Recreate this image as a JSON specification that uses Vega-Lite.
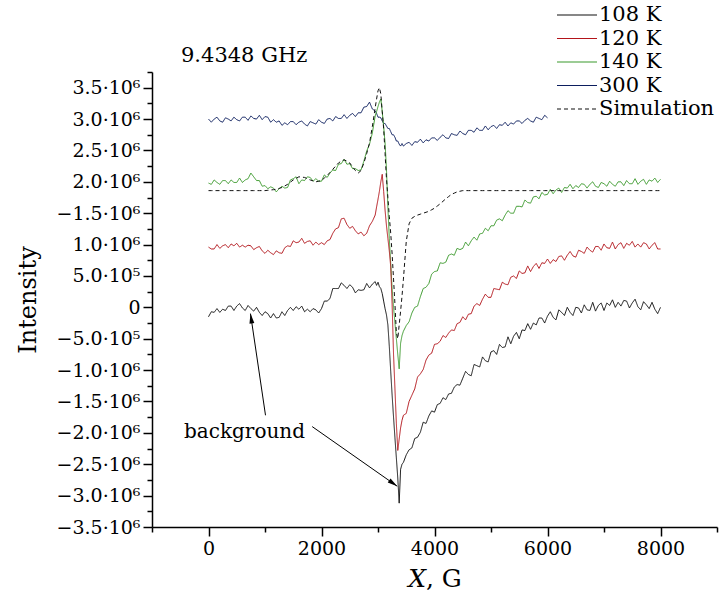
{
"$schema": "https://vega.github.io/schema/vega-lite/v6.json",
"width": 565, "height": 455,
"autosize": "none",
"padding": {"left": 152, "top": 72, "right": 3, "bottom": 81},
"background": "white",
"title": {"text": "9.4348 GHz", "anchor": "start", "frame": "group", "dx": 29, "offset": -62, "font": "DejaVu Serif", "fontSize": 21, "fontWeight": "normal", "color": "black"},
"datasets": {
"curves": [
{"x":0,"a":-0.15,"b":0.96,"c":1.98,"d":3.00,"s":1.86},
{"x":50,"a":-0.07,"b":0.93,"c":1.96,"d":2.95,"s":1.86},
{"x":100,"a":-0.08,"b":0.93,"c":2.03,"d":3.00,"s":1.86},
{"x":150,"a":-0.02,"b":1.00,"c":1.99,"d":3.03,"s":1.86},
{"x":200,"a":-0.08,"b":0.94,"c":1.96,"d":2.97,"s":1.86},
{"x":250,"a":-0.03,"b":0.98,"c":2.02,"d":2.95,"s":1.86},
{"x":300,"a":-0.05,"b":1.00,"c":2.02,"d":3.02,"s":1.86},
{"x":350,"a":0.02,"b":0.95,"c":1.97,"d":3.00,"s":1.86},
{"x":400,"a":0.02,"b":1.01,"c":2.03,"d":2.97,"s":1.86},
{"x":450,"a":-0.05,"b":0.98,"c":1.99,"d":3.03,"s":1.86},
{"x":500,"a":0.02,"b":1.02,"c":1.99,"d":2.99,"s":1.86},
{"x":550,"a":0.06,"b":0.96,"c":2.06,"d":2.97,"s":1.86},
{"x":600,"a":-0.01,"b":0.99,"c":1.99,"d":3.03,"s":1.86},
{"x":650,"a":-0.05,"b":0.96,"c":2.03,"d":3.03,"s":1.86},
{"x":700,"a":0.03,"b":0.99,"c":2.05,"d":2.98,"s":1.86},
{"x":750,"a":-0.02,"b":0.98,"c":2.14,"d":3.05,"s":1.86},
{"x":800,"a":-0.06,"b":0.92,"c":2.08,"d":3.01,"s":1.86},
{"x":850,"a":0.00,"b":0.95,"c":2.02,"d":3.00,"s":1.86},
{"x":900,"a":-0.08,"b":0.97,"c":2.02,"d":3.06,"s":1.86},
{"x":950,"a":-0.13,"b":0.90,"c":1.93,"d":2.99,"s":1.86},
{"x":1000,"a":-0.07,"b":0.86,"c":1.94,"d":3.04,"s":1.86},
{"x":1050,"a":-0.10,"b":0.91,"c":1.89,"d":3.03,"s":1.865},
{"x":1100,"a":-0.17,"b":0.87,"c":1.92,"d":2.95,"s":1.87},
{"x":1150,"a":-0.10,"b":0.84,"c":1.90,"d":2.99,"s":1.875},
{"x":1200,"a":-0.17,"b":0.90,"c":1.84,"d":2.95,"s":1.88},
{"x":1250,"a":-0.16,"b":0.87,"c":1.89,"d":2.97,"s":1.895},
{"x":1300,"a":-0.07,"b":0.86,"c":1.93,"d":2.90,"s":1.91},
{"x":1350,"a":-0.13,"b":0.95,"c":1.90,"d":2.94,"s":1.935},
{"x":1400,"a":-0.05,"b":0.98,"c":1.91,"d":2.91,"s":1.96},
{"x":1450,"a":0.00,"b":0.97,"c":2.03,"d":2.96,"s":1.995},
{"x":1500,"a":-0.05,"b":1.06,"c":2.05,"d":2.96,"s":2.03},
{"x":1550,"a":0.01,"b":1.03,"c":2.08,"d":2.91,"s":2.055},
{"x":1600,"a":-0.03,"b":1.04,"c":1.97,"d":2.95,"s":2.08},
{"x":1650,"a":0.02,"b":1.10,"c":2.03,"d":2.97,"s":2.075},
{"x":1700,"a":-0.07,"b":1.02,"c":2.02,"d":2.92,"s":2.07},
{"x":1750,"a":-0.03,"b":1.05,"c":2.08,"d":2.89,"s":2.05},
{"x":1800,"a":-0.07,"b":1.06,"c":2.07,"d":2.96,"s":2.03},
{"x":1850,"a":-0.02,"b":0.99,"c":2.01,"d":2.94,"s":2.015},
{"x":1900,"a":-0.04,"b":1.04,"c":2.05,"d":2.92,"s":2.00},
{"x":1950,"a":-0.09,"b":1.00,"c":2.01,"d":2.99,"s":2.01},
{"x":2000,"a":-0.02,"b":1.03,"c":2.01,"d":2.95,"s":2.02},
{"x":2050,"a":0.10,"b":1.00,"c":2.11,"d":2.93,"s":2.06},
{"x":2100,"a":0.10,"b":1.06,"c":2.07,"d":3.00,"s":2.10},
{"x":2150,"a":0.14,"b":1.08,"c":2.14,"d":3.01,"s":2.15},
{"x":2200,"a":0.30,"b":1.18,"c":2.19,"d":2.97,"s":2.20},
{"x":2250,"a":0.30,"b":1.25,"c":2.18,"d":3.04,"s":2.25},
{"x":2300,"a":0.30,"b":1.27,"c":2.28,"d":3.01,"s":2.30},
{"x":2350,"a":0.39,"b":1.41,"c":2.29,"d":3.01,"s":2.33},
{"x":2400,"a":0.35,"b":1.42,"c":2.36,"d":3.07,"s":2.35},
{"x":2450,"a":0.30,"b":1.32,"c":2.28,"d":3.01,"s":2.33},
{"x":2500,"a":0.36,"b":1.26,"c":2.29,"d":3.06,"s":2.30},
{"x":2550,"a":0.32,"b":1.29,"c":2.21,"d":3.09,"s":2.24},
{"x":2600,"a":0.23,"b":1.22,"c":2.21,"d":3.04,"s":2.18},
{"x":2650,"a":0.28,"b":1.17,"c":2.18,"d":3.10,"s":2.14},
{"x":2700,"a":0.27,"b":1.20,"c":2.19,"d":3.10,"s":2.18},
{"x":2750,"a":0.28,"b":1.14,"c":2.33,"d":3.19,"s":2.30},
{"x":2800,"a":0.38,"b":1.18,"c":2.49,"d":3.20,"s":2.45},
{"x":2850,"a":0.31,"b":1.30,"c":2.60,"d":3.27,"s":2.62},
{"x":2900,"a":0.37,"b":1.37,"c":2.78,"d":3.16,"s":2.88},
{"x":2950,"a":0.41,"b":1.47,"c":3.05,"d":3.13,"s":3.18},
{"x":2975,"a":0.35,"b":1.60,"c":3.12,"d":3.09,"s":3.32},
{"x":3000,"a":0.40,"b":1.72,"c":3.20,"d":3.03,"s":3.45},
{"x":3025,"a":0.33,"b":1.85,"c":3.27,"d":3.03,"s":3.50},
{"x":3050,"a":0.30,"b":2.00,"c":3.32,"d":3.02,"s":3.40},
{"x":3075,"a":0.22,"b":2.12,"c":3.12,"d":2.97,"s":3.12},
{"x":3100,"a":0.10,"b":1.85,"c":2.88,"d":2.93,"s":2.85},
{"x":3125,"a":-0.02,"b":1.55,"c":2.62,"d":2.93,"s":2.45},
{"x":3150,"a":-0.12,"b":1.30,"c":2.20,"d":2.89,"s":2.05},
{"x":3175,"a":-0.28,"b":1.10,"c":1.60,"d":2.85,"s":1.75},
{"x":3200,"a":-0.62,"b":0.90,"c":1.10,"d":2.85,"s":1.45},
{"x":3225,"a":-1.02,"b":0.65,"c":0.70,"d":2.80,"s":1.18},
{"x":3250,"a":-1.40,"b":0.05,"c":0.30,"d":2.75,"s":0.85},
{"x":3275,"a":-1.75,"b":-0.75,"c":0.00,"d":2.75,"s":0.45},
{"x":3300,"a":-2.08,"b":-1.30,"c":-0.25,"d":2.71,"s":0.05},
{"x":3325,"a":-2.40,"b":-1.85,"c":-0.50,"d":2.65,"s":-0.40},
{"x":3350,"a":-2.72,"b":-2.28,"c":-0.75,"d":2.65,"s":-0.50},
{"x":3375,"a":-3.12,"b":-2.10,"c":-0.98,"d":2.60,"s":-0.28},
{"x":3400,"a":-2.58,"b":-1.92,"c":-0.57,"d":2.57,"s":-0.06},
{"x":3425,"a":-2.50,"b":-1.80,"c":-0.45,"d":2.61,"s":0.18},
{"x":3450,"a":-2.47,"b":-1.72,"c":-0.38,"d":2.57,"s":0.45},
{"x":3500,"a":-2.35,"b":-1.69,"c":-0.29,"d":2.61,"s":1.05},
{"x":3550,"a":-2.27,"b":-1.50,"c":-0.23,"d":2.63,"s":1.33},
{"x":3600,"a":-2.24,"b":-1.40,"c":-0.09,"d":2.58,"s":1.42},
{"x":3650,"a":-2.09,"b":-1.30,"c":0.00,"d":2.64,"s":1.45},
{"x":3700,"a":-2.07,"b":-1.11,"c":0.02,"d":2.63,"s":1.47},
{"x":3750,"a":-1.99,"b":-1.06,"c":0.17,"d":2.68,"s":1.485},
{"x":3800,"a":-1.83,"b":-0.99,"c":0.30,"d":2.62,"s":1.50},
{"x":3850,"a":-1.85,"b":-0.84,"c":0.32,"d":2.67,"s":1.515},
{"x":3900,"a":-1.73,"b":-0.76,"c":0.38,"d":2.65,"s":1.53},
{"x":3950,"a":-1.65,"b":-0.73,"c":0.53,"d":2.70,"s":1.555},
{"x":4000,"a":-1.67,"b":-0.59,"c":0.57,"d":2.70,"s":1.58},
{"x":4050,"a":-1.55,"b":-0.58,"c":0.58,"d":2.66,"s":1.615},
{"x":4100,"a":-1.53,"b":-0.54,"c":0.71,"d":2.71,"s":1.65},
{"x":4150,"a":-1.44,"b":-0.45,"c":0.70,"d":2.75,"s":1.69},
{"x":4200,"a":-1.47,"b":-0.48,"c":0.72,"d":2.70,"s":1.73},
{"x":4250,"a":-1.38,"b":-0.41,"c":0.83,"d":2.69,"s":1.765},
{"x":4300,"a":-1.37,"b":-0.36,"c":0.85,"d":2.77,"s":1.80},
{"x":4350,"a":-1.27,"b":-0.37,"c":0.83,"d":2.75,"s":1.82},
{"x":4400,"a":-1.23,"b":-0.26,"c":0.94,"d":2.74,"s":1.84},
{"x":4450,"a":-1.24,"b":-0.24,"c":0.92,"d":2.81,"s":1.85},
{"x":4500,"a":-1.13,"b":-0.15,"c":0.94,"d":2.77,"s":1.86},
{"x":4550,"a":-1.02,"b":-0.20,"c":1.04,"d":2.75,"s":1.86},
{"x":4600,"a":-1.07,"b":-0.11,"c":0.98,"d":2.82,"s":1.86},
{"x":4650,"a":-1.09,"b":-0.10,"c":1.06,"d":2.82,"s":1.86},
{"x":4700,"a":-0.91,"b":0.02,"c":1.12,"d":2.79,"s":1.86},
{"x":4750,"a":-0.93,"b":0.06,"c":1.07,"d":2.86,"s":1.86},
{"x":4800,"a":-0.95,"b":0.03,"c":1.17,"d":2.82,"s":1.86},
{"x":4850,"a":-0.79,"b":0.13,"c":1.18,"d":2.82,"s":1.86},
{"x":4900,"a":-0.85,"b":0.21,"c":1.26,"d":2.89,"s":1.86},
{"x":4950,"a":-0.87,"b":0.16,"c":1.22,"d":2.83,"s":1.86},
{"x":5000,"a":-0.71,"b":0.16,"c":1.30,"d":2.88,"s":1.86},
{"x":5050,"a":-0.69,"b":0.30,"c":1.30,"d":2.90,"s":1.86},
{"x":5100,"a":-0.75,"b":0.29,"c":1.39,"d":2.85,"s":1.86},
{"x":5150,"a":-0.59,"b":0.28,"c":1.41,"d":2.91,"s":1.86},
{"x":5200,"a":-0.64,"b":0.40,"c":1.38,"d":2.90,"s":1.86},
{"x":5250,"a":-0.63,"b":0.37,"c":1.47,"d":2.95,"s":1.86},
{"x":5300,"a":-0.47,"b":0.36,"c":1.54,"d":2.89,"s":1.86},
{"x":5350,"a":-0.58,"b":0.48,"c":1.50,"d":2.94,"s":1.86},
{"x":5400,"a":-0.46,"b":0.50,"c":1.50,"d":2.92,"s":1.86},
{"x":5450,"a":-0.40,"b":0.46,"c":1.61,"d":2.97,"s":1.86},
{"x":5500,"a":-0.50,"b":0.58,"c":1.61,"d":2.97,"s":1.86},
{"x":5550,"a":-0.36,"b":0.54,"c":1.60,"d":2.93,"s":1.86},
{"x":5600,"a":-0.37,"b":0.55,"c":1.71,"d":2.98,"s":1.86},
{"x":5650,"a":-0.26,"b":0.66,"c":1.67,"d":3.01,"s":1.86},
{"x":5700,"a":-0.35,"b":0.57,"c":1.66,"d":2.97,"s":1.86},
{"x":5750,"a":-0.25,"b":0.65,"c":1.76,"d":2.95,"s":1.86},
{"x":5800,"a":-0.28,"b":0.70,"c":1.77,"d":3.03,"s":1.86},
{"x":5850,"a":-0.17,"b":0.62,"c":1.73,"d":3.01,"s":1.86},
{"x":5900,"a":-0.17,"b":0.71,"c":1.83,"d":2.99,"s":1.86},
{"x":5950,"a":-0.25,"b":0.70,"c":1.79,"d":3.06,"s":1.86},
{"x":6000,"a":-0.14,"b":0.77,"c":1.80,"d":3.02,"s":1.86},
{"x":6050,"a":-0.07,"b":0.70,"c":1.88,"s":1.86},
{"x":6100,"a":-0.16,"b":0.76,"c":1.81,"s":1.86},
{"x":6150,"a":-0.20,"b":0.73,"c":1.87,"s":1.86},
{"x":6200,"a":-0.04,"b":0.81,"c":1.90,"s":1.86},
{"x":6250,"a":-0.08,"b":0.82,"c":1.83,"s":1.86},
{"x":6300,"a":-0.13,"b":0.75,"c":1.91,"s":1.86},
{"x":6350,"a":0.00,"b":0.83,"c":1.90,"s":1.86},
{"x":6400,"a":-0.08,"b":0.89,"c":1.96,"s":1.86},
{"x":6450,"a":-0.13,"b":0.82,"c":1.89,"s":1.86},
{"x":6500,"a":0.00,"b":0.80,"c":1.94,"s":1.86},
{"x":6550,"a":-0.01,"b":0.91,"c":1.91,"s":1.86},
{"x":6600,"a":-0.09,"b":0.89,"c":1.97,"s":1.86},
{"x":6650,"a":0.04,"b":0.86,"c":1.96,"s":1.86},
{"x":6700,"a":-0.04,"b":0.96,"c":1.90,"s":1.86},
{"x":6750,"a":-0.05,"b":0.91,"c":1.96,"s":1.86},
{"x":6800,"a":0.08,"b":0.88,"c":2.00,"s":1.86},
{"x":6850,"a":-0.06,"b":0.97,"c":1.93,"s":1.86},
{"x":6900,"a":0.03,"b":0.97,"c":1.91,"s":1.86},
{"x":6950,"a":0.07,"b":0.91,"c":1.99,"s":1.86},
{"x":7000,"a":-0.05,"b":1.01,"c":1.97,"s":1.86},
{"x":7050,"a":0.07,"b":0.95,"c":1.93,"s":1.86},
{"x":7100,"a":0.03,"b":0.94,"c":2.01,"s":1.86},
{"x":7150,"a":0.12,"b":1.04,"c":1.96,"s":1.86},
{"x":7200,"a":0.00,"b":0.93,"c":1.93,"s":1.86},
{"x":7250,"a":0.08,"b":1.00,"c":2.00,"s":1.86},
{"x":7300,"a":0.02,"b":1.03,"c":2.00,"s":1.86},
{"x":7350,"a":0.11,"b":0.94,"c":1.94,"s":1.86},
{"x":7400,"a":0.10,"b":1.02,"c":2.02,"s":1.86},
{"x":7450,"a":-0.01,"b":0.99,"c":1.97,"s":1.86},
{"x":7500,"a":0.07,"b":1.05,"c":1.97,"s":1.86},
{"x":7550,"a":0.13,"b":0.96,"c":2.05,"s":1.86},
{"x":7600,"a":0.01,"b":1.01,"c":1.96,"s":1.86},
{"x":7650,"a":-0.04,"b":0.96,"c":2.01,"s":1.86},
{"x":7700,"a":0.09,"b":1.03,"c":2.04,"s":1.86},
{"x":7750,"a":0.04,"b":1.01,"c":1.96,"s":1.86},
{"x":7800,"a":-0.02,"b":0.93,"c":2.03,"s":1.86},
{"x":7850,"a":0.08,"b":0.99,"c":2.01,"s":1.86},
{"x":7900,"a":-0.03,"b":1.03,"c":2.06,"s":1.86},
{"x":7950,"a":-0.10,"b":0.93,"c":1.99,"s":1.86},
{"x":8000,"a":0.00,"b":0.93,"c":2.04,"s":1.86}
],
"arrows": [
{"x":1009,"v":-1.72,"x2":743,"v2":-0.10},
{"x":1835,"v":-1.90,"x2":3340,"v2":-2.85}
],
"heads": [
{"id":"a1","x":743,"v":-0.10},
{"id":"a2","x":3340,"v":-2.85}
],
"labels": [
{"x":637,"v":-1.98,"label":"background"}
]
},
"encoding": {
"x": {"field": "x", "type": "quantitative", "title": "𝑋, G",
 "scale": {"domain": [-1000, 9000], "nice": false, "zero": false},
 "axis": {"values": [-1000,0,1000,2000,3000,4000,5000,6000,7000,8000,9000],
  "labelExpr": "datum.value % 2000 == 0 && datum.value >= 0 && datum.value <= 8000 ? format(datum.value, 'd') : ''",
  "tickSize": {"condition": {"test": "datum.value % 2000 == 0", "value": 9}, "value": 5},
  "labelPadding": 3, "titlePadding": 8, "titleFontSize": 25, "labelFlush": false, "labelOverlap": false}},
"y": {"field": "v", "type": "quantitative", "title": "Intensity",
 "scale": {"domain": [-3.5, 3.75], "nice": false, "zero": false},
 "axis": {"values": [-3.5,-3.25,-3,-2.75,-2.5,-2.25,-2,-1.75,-1.5,-1.25,-1,-0.75,-0.5,-0.25,0,0.25,0.5,0.75,1,1.25,1.5,1.75,2,2.25,2.5,2.75,3,3.25,3.5,3.75],
  "labelExpr": "abs(datum.value*2 - round(datum.value*2)) > 0.001 ? '' : datum.value == 0 ? '0' : (datum.value < 0 || datum.value == 1.5 ? '−' : '') + (abs(datum.value) < 1 ? '5.0·10⁵' : format(abs(datum.value), '.1f') + '·10⁶')",
  "tickSize": {"condition": {"test": "abs(datum.value*2 - round(datum.value*2)) < 0.001", "value": 9}, "value": 5},
  "labelPadding": 3, "titlePadding": 16, "titleFontSize": 24, "labelOverlap": false}}
},
"layer": [
{"data": {"name": "curves"},
 "transform": [{"fold": ["d", "c", "b", "a", "s"], "as": ["k", "v"]}, {"filter": "isValid(datum.v)"}],
 "mark": {"type": "line", "strokeWidth": 1},
 "encoding": {
  "color": {"field": "k", "type": "nominal",
   "scale": {"domain": ["a", "b", "c", "d", "s"], "range": ["#111111", "#b3141a", "#3b9a2c", "#0c1e5e", "#111111"]},
   "legend": {"orient": "none", "legendX": 404, "legendY": -68, "title": null, "padding": 0, "rowPadding": 2.5,
    "labelFont": "DejaVu Serif", "labelFontSize": 21, "labelColor": "black", "labelOffset": 21,
    "symbolType": "M-1,0H3", "symbolSize": 400, "symbolStrokeWidth": 1.2,
    "labelExpr": "datum.label == 'a' ? '108 K' : datum.label == 'b' ? '120 K' : datum.label == 'c' ? '140 K' : datum.label == 'd' ? '300 K' : 'Simulation'"}},
  "strokeDash": {"field": "k", "type": "nominal",
   "scale": {"domain": ["a", "b", "c", "d", "s"], "range": [[1, 0], [1, 0], [1, 0], [1, 0], [4, 3]]},
   "legend": {"orient": "none", "legendX": 404, "legendY": -68, "title": null, "padding": 0, "rowPadding": 2.5,
    "labelFont": "DejaVu Serif", "labelFontSize": 21, "labelColor": "black", "labelOffset": 21,
    "symbolType": "M-1,0H3", "symbolSize": 400, "symbolStrokeWidth": 1.2,
    "labelExpr": "datum.label == 'a' ? '108 K' : datum.label == 'b' ? '120 K' : datum.label == 'c' ? '140 K' : datum.label == 'd' ? '300 K' : 'Simulation'"}}
 }},
{"data": {"name": "arrows"},
 "mark": {"type": "rule", "color": "black", "strokeWidth": 1},
 "encoding": {"x2": {"field": "x2"}, "y2": {"field": "v2"}}},
{"data": {"name": "heads"},
 "transform": [{"filter": "datum.id == 'a1'"}],
 "mark": {"type": "point", "shape": "M0,0L-0.55,2.2L0.55,2.2Z", "filled": true, "color": "black", "opacity": 1, "size": 80, "angle": 351.6, "strokeWidth": 0}},
{"data": {"name": "heads"},
 "transform": [{"filter": "datum.id == 'a2'"}],
 "mark": {"type": "point", "shape": "M0,0L-0.55,2.2L0.55,2.2Z", "filled": true, "color": "black", "opacity": 1, "size": 80, "angle": 124.9, "strokeWidth": 0}},
{"data": {"name": "labels"},
 "mark": {"type": "text", "font": "DejaVu Serif", "fontSize": 20, "align": "center", "baseline": "middle", "color": "black"},
 "encoding": {"text": {"field": "label"}}}
],
"config": {
 "view": {"stroke": null},
 "axis": {"grid": false, "labelFont": "DejaVu Serif", "titleFont": "DejaVu Serif", "labelFontSize": 19, "labelColor": "black", "titleColor": "black", "titleFontWeight": "normal", "domainColor": "black", "tickColor": "black", "domainWidth": 1.5, "tickWidth": 1.5}
}
}
